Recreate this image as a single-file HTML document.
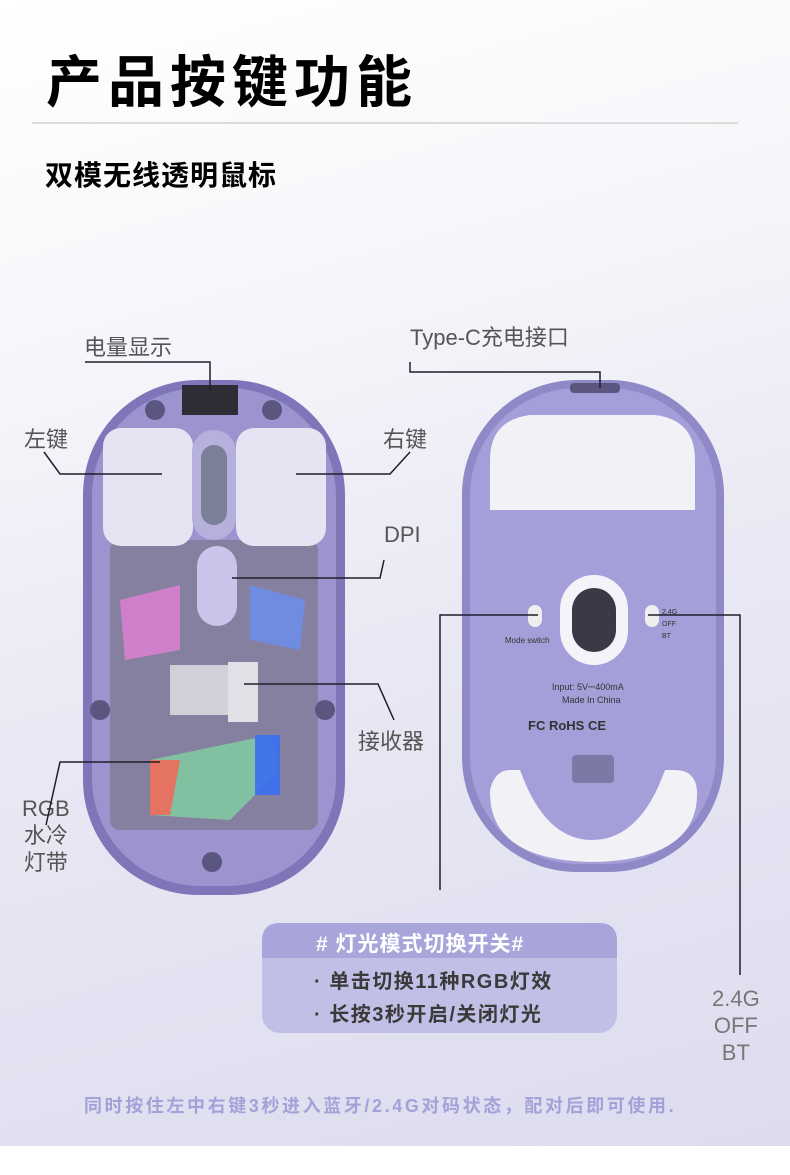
<!DOCTYPE html>
<html><head><meta charset="utf-8"><style>
html,body{margin:0;padding:0}
body{width:790px;height:1175px;position:relative;overflow:hidden;background:#fff;font-family:"Liberation Sans","Noto Sans CJK SC",sans-serif}
.bg{position:absolute;left:0;top:0;width:790px;height:1146px;background:linear-gradient(165deg,#ffffff 0%,#f7f7fb 25%,#e9e8f4 55%,#dddcef 100%)}
.t{position:absolute;white-space:nowrap}
.lab{font-size:22px;color:#555;}
</style></head><body>
<div class="bg"></div>
<div class="t" style="left:46px;top:38px;font-size:56px;font-weight:bold;color:#000;letter-spacing:6px">产品按键功能</div>
<div style="position:absolute;left:32px;top:122px;width:706px;height:2px;background:#dcdcdc"></div>
<div class="t" style="left:45px;top:154px;font-size:28px;color:#000;font-weight:bold;letter-spacing:1px">双模无线透明鼠标</div>

<div class="t lab" style="left:84px;top:330px">电量显示</div>
<div class="t lab" style="left:410px;top:320px">Type-C充电接口</div>
<div class="t lab" style="left:24px;top:422px">左键</div>
<div class="t lab" style="left:383px;top:422px">右键</div>
<div class="t lab" style="left:384px;top:522px">DPI</div>
<div class="t lab" style="left:358px;top:724px">接收器</div>
<div class="t lab" style="left:22px;top:795px;line-height:27px;text-align:center">RGB<br>水冷<br>灯带</div>
<div class="t" style="left:712px;top:985px;font-size:22px;color:#777;line-height:27px;text-align:center">2.4G<br>OFF<br>BT</div>

<svg width="790" height="1175" style="position:absolute;left:0;top:0">
<rect x="83" y="380" width="262" height="515" rx="115" fill="#7e76b8"/>
<rect x="92" y="388" width="244" height="498" rx="108" fill="#9b94cf"/>
<rect x="110" y="540" width="208" height="290" rx="10" fill="#85809f"/>
<rect x="103" y="428" width="90" height="118" rx="18" fill="#e6e4f2"/>
<rect x="236" y="428" width="90" height="118" rx="18" fill="#e6e4f2"/>
<rect x="192" y="430" width="44" height="110" rx="22" fill="#b5b0dc"/>
<rect x="201" y="445" width="26" height="80" rx="13" fill="#7c7f98"/>
<rect x="182" y="385" width="56" height="30" fill="#2d2d35"/>
<rect x="197" y="546" width="40" height="80" rx="20" fill="#c9c5ea"/>
<rect x="170" y="665" width="60" height="50" fill="#cfd0d8"/>
<rect x="228" y="662" width="30" height="60" fill="#e0e0e6"/>
<path d="M120 600 L180 585 L180 650 L125 660Z" fill="#e27fd6" opacity=".8"/>
<path d="M250 585 L305 600 L300 650 L250 640Z" fill="#6a8ef0" opacity=".8"/>
<path d="M150 760 L270 735 L280 770 L230 820 L150 815Z" fill="#7fd0a0" opacity=".8"/>
<path d="M150 760 L180 760 L170 815 L150 815Z" fill="#f06a5a" opacity=".9"/>
<path d="M255 735 L280 735 L280 795 L255 795Z" fill="#3a6ef0" opacity=".9"/>
<circle cx="155" cy="410" r="10" fill="#5a5680"/><circle cx="272" cy="410" r="10" fill="#5a5680"/>
<circle cx="100" cy="710" r="10" fill="#5a5680"/><circle cx="325" cy="710" r="10" fill="#5a5680"/>
<circle cx="212" cy="862" r="10" fill="#5a5680"/>
<rect x="462" y="380" width="262" height="492" rx="115" fill="#8f89c8"/>
<rect x="470" y="388" width="246" height="476" rx="108" fill="#a49fd8"/>
<path d="M490 460 Q490 420 530 415 L655 415 Q695 420 695 460 L695 510 L490 510Z" fill="#f2f1f6"/>
<path d="M490 790 Q495 770 510 770 L520 770 Q545 840 592 840 Q640 840 665 770 L675 770 Q695 770 697 790 Q700 860 592 862 Q488 860 490 790Z" fill="#f2f1f6"/>
<rect x="560" y="575" width="68" height="90" rx="34" fill="#f4f3fa"/>
<rect x="572" y="588" width="44" height="64" rx="22" fill="#3a3a46"/>
<rect x="572" y="755" width="42" height="28" rx="4" fill="#7d79a6"/>
<rect x="570" y="383" width="50" height="10" rx="4" fill="#5a5680"/>
<rect x="528" y="605" width="14" height="22" rx="7" fill="#eee"/>
<rect x="645" y="605" width="14" height="22" rx="7" fill="#eee"/>
<text x="552" y="690" font-size="9" fill="#333" font-family="Liberation Sans">Input: 5V⎓400mA</text>
<text x="562" y="703" font-size="9" fill="#333" font-family="Liberation Sans">Made In China</text>
<text x="528" y="730" font-size="13" font-weight="bold" fill="#333" font-family="Liberation Sans">FC RoHS CE</text>
<text x="505" y="643" font-size="8" fill="#333" font-family="Liberation Sans">Mode switch</text>
<text x="662" y="614" font-size="7" fill="#333" font-family="Liberation Sans">2.4G</text>
<text x="662" y="626" font-size="7" fill="#333" font-family="Liberation Sans">OFF</text>
<text x="662" y="638" font-size="7" fill="#333" font-family="Liberation Sans">BT</text>
<g stroke="#1f1f2a" stroke-width="1.5" fill="none">
<polyline points="85,362 210,362 210,390"/>
<polyline points="410,362 410,372 600,372 600,388"/>
<polyline points="44,452 60,474 162,474"/>
<polyline points="410,452 390,474 296,474"/>
<polyline points="384,560 380,578 232,578"/>
<polyline points="394,720 378,684 244,684"/>
<polyline points="46,825 60,762 160,762"/>
<polyline points="440,890 440,615 538,615"/>
<polyline points="740,975 740,615 648,615"/>
</g>
<rect x="262" y="923" width="355" height="110" rx="18" fill="#c1bfe5"/>
<path d="M262 958 L262 941 Q262 923 280 923 L599 923 Q617 923 617 941 L617 958Z" fill="#a7a5da"/>
</svg>
<div class="t" style="left:316px;top:928px;font-size:21px;font-weight:bold;color:#fff;letter-spacing:1px">#&nbsp;灯光模式切换开关#</div>
<div class="t" style="left:314px;top:965px;font-size:20px;font-weight:bold;color:#3a3a3a;letter-spacing:1.5px">· 单击切换11种RGB灯效</div>
<div class="t" style="left:314px;top:998px;font-size:20px;font-weight:bold;color:#3a3a3a;letter-spacing:1.5px">· 长按3秒开启/关闭灯光</div>
<div class="t" style="left:84px;top:1092px;font-size:18px;color:#a3a2d8;font-weight:bold;letter-spacing:2.6px">同时按住左中右键3秒进入蓝牙/2.4G对码状态，配对后即可使用.</div>
</body></html>
